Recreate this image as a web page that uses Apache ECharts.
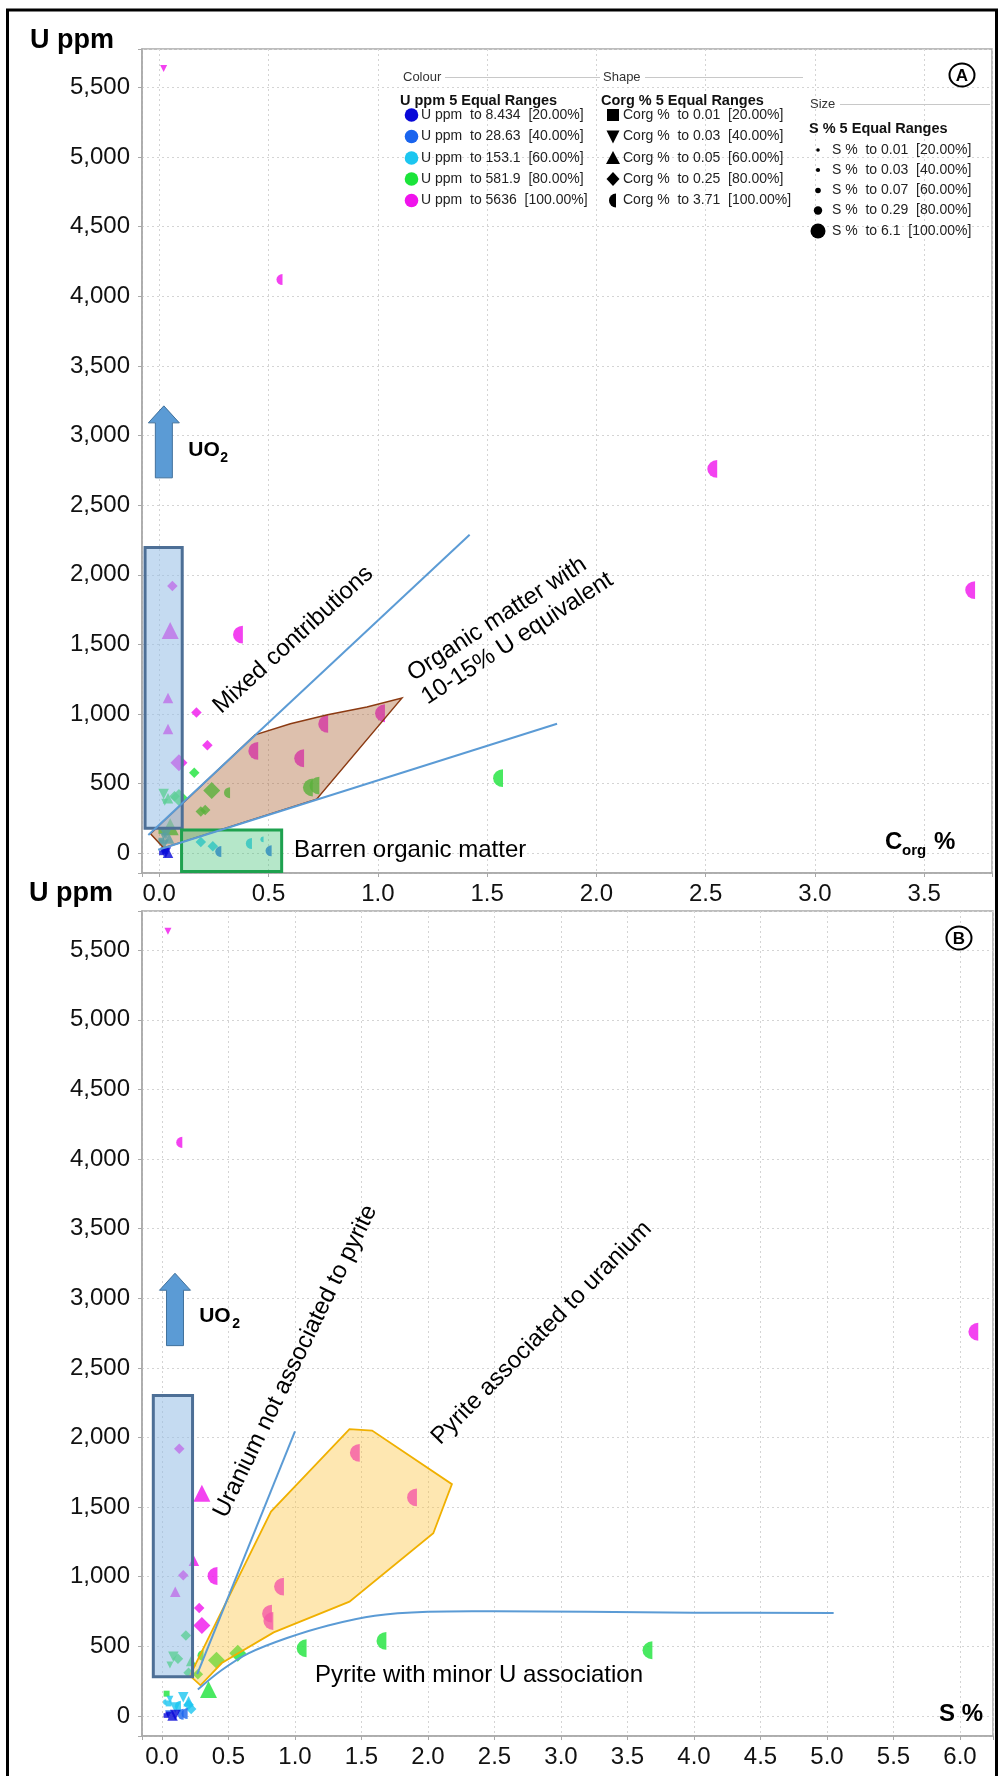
<!DOCTYPE html>
<html><head><meta charset="utf-8"><title>U ppm vs Corg % and S %</title>
<script src="https://cdn.jsdelivr.net/npm/echarts@6.0.0/dist/echarts.min.js"></script>
<style>html,body{margin:0;padding:0;background:#fff;}#chart{width:998px;height:1776px;}</style>
</head><body><div id="chart"></div>
<script>
// ---------- class breaks (legend) ----------
const uBreaks    = [8.434, 28.63, 153.1, 581.9, 5636];
const corgBreaks = [0.01, 0.03, 0.05, 0.25, 3.71];
const sBreaks    = [0.01, 0.03, 0.07, 0.29, 6.1];
const classPct   = ['20.00%', '40.00%', '60.00%', '80.00%', '100.00%'];

// ---------- samples (same samples in both panels) ----------
const uPpm    = [5636, 4120, 2760, 1890, 1920, 1600, 1570, 1115, 1010, 1005, 929, 893, 775, 735, 682, 650,
                 578, 450, 435, 472, 486, 539, 300, 311, 190, 426, 366, 395, 400, 410, 160,
                 80, 50, 70, 100, 120, 90, 135, 60, 105,
                 12, 17, 15,
                 3, 5, 4, 6];
const corgPct = [0.02, 0.55, 2.53, 3.71, 0.06, 0.05, 0.36, 0.04, 0.17, 1.01, 0.75, 0.04, 0.22, 0.43, 0.64, 0.09,
                 0.16, 0.24, 0.31, 0.68, 0.71, 1.55, 0.19, 0.21, 0.05, 0.02, 0.025, 0.04, 0.09, 0.07, 0.01,
                 0.19, 0.245, 0.41, 0.47, 0.02, 0.01, 0.03, 0.02, 0.045,
                 0.27, 0.50, 0.03,
                 0.01, 0.02, 0.04, 0.03];
const sPct    = [0.045, 0.13, 6.1, 1.45, 0.13, 0.30, 1.88, 0.24, 0.16, 0.38, 0.88, 0.10, 0.28, 0.79, 0.80, 0.30,
                 0.18, 0.57, 0.29, 3.65, 1.05, 1.65, 0.27, 0.20, 0.35, 0.086, 0.06, 0.22, 0.41, 0.12, 0.035,
                 0.20, 0.22, 0.12, 0.02, 0.06, 0.05, 0.16, 0.10, 0.20,
                 0.14, 0.17, 0.05,
                 0.03, 0.05, 0.08, 0.10];

// ---------- tick labels ----------
const xTicksA = [0, 0.5, 1, 1.5, 2, 2.5, 3, 3.5];
const xTicksB = [0, 0.5, 1, 1.5, 2, 2.5, 3, 3.5, 4, 4.5, 5, 5.5, 6];
const yTicks  = [0, 500, 1000, 1500, 2000, 2500, 3000, 3500, 4000, 4500, 5000, 5500];

const FONT = '"Liberation Sans", Arial, Helvetica, sans-serif';
const COLORS = ['#0808d8', '#1a64ee', '#1cc6f0', '#1be43a', '#f013ec'];
const SHAPES = ['rect', 'path://M0,0L10,0L5,9Z', 'triangle', 'diamond', 'path://M10,0A10,10,0,0,0,10,20Z'];
const SIZES = [4.5, 5.5, 7, 10.5, 17];

function cls(v, br) { for (let i = 0; i < br.length; i++) { if (v <= br[i] + 1e-9) return i; } return br.length - 1; }
function item(xv, i) {
  const ci = cls(uPpm[i], uBreaks), si = cls(corgPct[i], corgBreaks), zi = cls(sPct[i], sBreaks);
  const s = SIZES[zi];
  let size = s;
  if (si === 4) size = [s * 0.58, s * 1.05];
  else if (si === 0) size = s * 0.85;
  return { value: [xv, uPpm[i]], symbol: SHAPES[si], symbolSize: size, itemStyle: { color: COLORS[ci] } };
}
const dataA = uPpm.map((u, i) => item(corgPct[i], i));
const dataB = uPpm.map((u, i) => item(sPct[i], i));

function near(list, v) { return list.some(t => Math.abs(t - v) < 1e-6); }
function thousands(v) { return String(Math.round(v)).replace(/\B(?=(\d{3})+(?!\d))/g, ','); }

function xAxis(idx, min, max, split, ticks) {
  return {
    type: 'value', gridIndex: idx, min, max, splitNumber: split,
    axisLine: { show: true, onZero: false, lineStyle: { color: '#a8a8a8', width: 1.5 } },
    axisTick: { show: true, length: 4, lineStyle: { color: '#a8a8a8' } },
    splitLine: { show: true, lineStyle: { color: '#d4d4d4', type: [2, 3], width: 1 } },
    axisLabel: { margin: 9, color: '#111', fontFamily: FONT, fontSize: 24,
      formatter: v => near(ticks, v) ? v.toFixed(1) : '' }
  };
}
function yAxis(idx, min, max) {
  return {
    type: 'value', gridIndex: idx, min, max, splitNumber: 12,
    axisLine: { show: true, onZero: false, lineStyle: { color: '#a8a8a8', width: 1.5 } },
    axisTick: { show: true, length: 4, lineStyle: { color: '#a8a8a8' } },
    splitLine: { show: true, lineStyle: { color: '#d4d4d4', type: [2, 3], width: 1 } },
    axisLabel: { margin: 12, color: '#111', fontFamily: FONT, fontSize: 24,
      formatter: v => near(yTicks, v) ? thousands(v) : '' }
  };
}

// ---------- overlay helpers ----------
function overlay(idx, build) {
  return { type: 'custom', coordinateSystem: 'cartesian2d', xAxisIndex: idx, yAxisIndex: idx,
    z: 5, silent: true, clip: false, data: [[0, 0]],
    renderItem: (p, api) => ({ type: 'group', children: build(api) }) };
}
function helpers(api) {
  const c = p => api.coord(p);
  return {
    poly: (pts, style) => ({ type: 'polygon', shape: { points: pts.map(c) }, style }),
    line: (pts, style, smooth) => ({ type: 'polyline', shape: { points: pts.map(c), smooth: smooth || 0 },
      style: Object.assign({ fill: null }, style) }),
    txt: (p, text, rot, font, align, dx, dy) => {
      const q = c(p);
      return { type: 'text', x: q[0] + (dx || 0), y: q[1] + (dy || 0), rotation: (rot || 0) * Math.PI / 180,
        style: { text, font, fill: '#000', align: align || 'center', verticalAlign: 'middle' } };
    },
    arrow: (x, uTip, uBase) => {
      const t = c([x, uTip]), b = c([x, uBase]);
      const X = t[0], hw = 15.5, sw = 8.5, hh = 17;
      return { type: 'polygon', shape: { points: [[X, t[1]], [X + hw, t[1] + hh], [X + sw, t[1] + hh], [X + sw, b[1]],
        [X - sw, b[1]], [X - sw, t[1] + hh], [X - hw, t[1] + hh]] },
        style: { fill: '#5b9bd5', stroke: '#41719c', lineWidth: 1 } };
    }
  };
}
const ANN = '24px ' + FONT;
const BLUE = '#5b9bd5';

const overlayA = overlay(0, api => {
  const h = helpers(api);
  return [
    h.poly([[-0.04, 140], [0.438, 850], [0.6, 930], [0.77, 994], [0.95, 1050], [1.11, 1114], [0.72, 388], [0.02, 38]],
      { fill: 'rgba(175,105,60,0.42)', stroke: '#8b3a12', lineWidth: 1.5 }),
    h.poly([[-0.065, 2195], [0.105, 2195], [0.105, 180], [-0.065, 180]],
      { fill: 'rgba(150,190,230,0.55)', stroke: '#4d6f96', lineWidth: 3 }),
    h.poly([[0.102, 167], [0.56, 167], [0.56, -132], [0.102, -132]],
      { fill: 'rgba(70,195,120,0.40)', stroke: '#1ea14f', lineWidth: 3 }),
    h.line([[-0.05, 131], [1.42, 2287]], { stroke: BLUE, lineWidth: 2 }),
    h.line([[-0.005, 25], [1.82, 930]], { stroke: BLUE, lineWidth: 2 }),
    h.arrow(0.021, 3213, 2696),
    h.txt([0.133, 2897], 'UO', 0, 'bold 21px ' + FONT, 'left'),
    h.txt([0.133, 2897], '2', 0, 'bold 14px ' + FONT, 'left', 32, 8),
    h.txt([0.613, 1533], 'Mixed contributions', 42.3, ANN, 'center'),
    h.txt([1.147, 1274], 'Organic matter with', 33, ANN, 'left'),
    h.txt([1.211, 1106], '10-15% U equivalent', 33, ANN, 'left'),
    h.txt([0.617, 24], 'Barren organic matter', 0, ANN, 'left')
  ];
});

const overlayB = overlay(1, api => {
  const h = helpers(api);
  return [
    h.poly([[0.21, 290], [0.82, 1468], [1.41, 2060], [1.58, 2050], [2.18, 1665], [2.04, 1312], [1.41, 821],
            [0.84, 600], [0.45, 380], [0.29, 220]],
      { fill: 'rgba(253,196,60,0.40)', stroke: '#f0b000', lineWidth: 1.8 }),
    h.poly([[-0.065, 2301], [0.23, 2301], [0.23, 282], [-0.065, 282]],
      { fill: 'rgba(150,190,230,0.55)', stroke: '#4d6f96', lineWidth: 3 }),
    h.line([[0.265, 300], [1.0, 2045]], { stroke: BLUE, lineWidth: 2 }),
    h.line([[0.27, 190], [0.45, 330], [0.65, 450], [0.94, 560], [1.25, 650], [1.6, 720], [2.0, 748], [2.5, 752],
            [3.2, 748], [4.0, 742], [5.05, 740]], { stroke: BLUE, lineWidth: 2 }, 0.35),
    h.arrow(0.098, 3180, 2660),
    h.txt([0.28, 2868], 'UO', 0, 'bold 21px ' + FONT, 'left'),
    h.txt([0.28, 2868], '2', 0, 'bold 14px ' + FONT, 'left', 33, 7),
    h.txt([1.004, 2547], 'Uranium not associated to pyrite', 64, ANN, 'center'),
    h.txt([2.855, 2751], 'Pyrite associated to uranium', 45.5, ANN, 'center'),
    h.txt([1.15, 295], 'Pyrite with minor U association', 0, ANN, 'left')
  ];
});

// ---------- legend & decorations (graphic) ----------
const G = [];
function gtext(x, y, text, font, align, fill) {
  G.push({ type: 'text', x, y, silent: true, z: 100,
    style: { text, font, fill: fill || '#111', align: align || 'left', verticalAlign: 'middle' } });
}
function gline(x1, y1, x2, y2, color, w) {
  G.push({ type: 'line', silent: true, z: 100, shape: { x1, y1, x2, y2 }, style: { stroke: color, lineWidth: w || 1 } });
}
G.push({ type: 'rect', silent: true, z: 200, shape: { x: 7.5, y: 10, width: 989, height: 1790 },
  style: { fill: null, stroke: '#000', lineWidth: 3 } });
gtext(30, 41, 'U ppm', 'bold 27px ' + FONT, 'left', '#000');
gtext(29, 894, 'U ppm', 'bold 27px ' + FONT, 'left', '#000');
function circled(cx, cy, letter) {
  G.push({ type: 'ellipse', silent: true, z: 100, shape: { cx, cy, rx: 12.5, ry: 11.5 },
    style: { fill: '#fff', stroke: '#000', lineWidth: 2 } });
  gtext(cx, cy + 1, letter, 'bold 17px ' + FONT, 'center', '#000');
}
circled(962, 75, 'A');
circled(959, 938, 'B');
gtext(885, 842, 'C', 'bold 24px ' + FONT, 'left', '#000');
gtext(902, 851, 'org', 'bold 15px ' + FONT, 'left', '#000');
gtext(934, 842, '%', 'bold 24px ' + FONT, 'left', '#000');
gtext(983, 1714, 'S %', 'bold 24px ' + FONT, 'right', '#000');

const LF = '14px ' + FONT, LB = 'bold 14.5px ' + FONT, LS = '13px ' + FONT;
gtext(403, 77, 'Colour', LS, 'left', '#333');
gline(445, 77.5, 600, 77.5, '#c8c8c8', 1);
gtext(603, 77, 'Shape', LS, 'left', '#333');
gline(645, 77.5, 803, 77.5, '#c8c8c8', 1);
gtext(810, 104.5, 'Size', LS, 'left', '#333');
gline(840, 104.5, 990, 104.5, '#c8c8c8', 1);
gtext(400, 101, 'U ppm 5 Equal Ranges', LB, 'left', '#111');
gtext(601, 101, 'Corg % 5 Equal Ranges', LB, 'left', '#111');
gtext(809, 128.5, 'S % 5 Equal Ranges', LB, 'left', '#111');
const rowsC = [115, 136.5, 158, 179, 200.5];
const rowsS = [150, 170, 190.5, 210.5, 231];
const dotR = [1.8, 2.1, 2.8, 4.2, 7.5];
for (let i = 0; i < 5; i++) {
  const y = rowsC[i];
  G.push({ type: 'circle', silent: true, z: 100, shape: { cx: 411.5, cy: y, r: 6.8 }, style: { fill: COLORS[i] } });
  gtext(421, y, 'U ppm  to ' + uBreaks[i] + '  [' + classPct[i] + ']', LF, 'left', '#222');
  const sx = 613;
  let shp;
  if (i === 0) shp = { type: 'rect', shape: { x: sx - 6, y: y - 6, width: 12, height: 12 } };
  else if (i === 1) shp = { type: 'polygon', shape: { points: [[sx - 6.5, y - 6], [sx + 6.5, y - 6], [sx, y + 7]] } };
  else if (i === 2) shp = { type: 'polygon', shape: { points: [[sx, y - 7], [sx + 7, y + 6], [sx - 7, y + 6]] } };
  else if (i === 3) shp = { type: 'polygon', shape: { points: [[sx, y - 7], [sx + 6.5, y], [sx, y + 7], [sx - 6.5, y]] } };
  else shp = { type: 'sector', shape: { cx: sx + 3, cy: y, r0: 0, r: 7, startAngle: Math.PI / 2, endAngle: Math.PI * 1.5 } };
  shp.silent = true; shp.z = 100; shp.style = { fill: '#000' };
  G.push(shp);
  gtext(623, y, 'Corg %  to ' + corgBreaks[i] + '  [' + classPct[i] + ']', LF, 'left', '#222');
  G.push({ type: 'circle', silent: true, z: 100, shape: { cx: 818, cy: rowsS[i], r: dotR[i] }, style: { fill: '#000' } });
  gtext(832, rowsS[i], 'S %  to ' + sBreaks[i] + '  [' + classPct[i] + ']', LF, 'left', '#222');
}

const option = {
  animation: false,
  backgroundColor: '#fff',
  textStyle: { fontFamily: FONT },
  grid: [
    { left: 142, right: 6, top: 49, height: 824, show: true, borderColor: '#a8a8a8', borderWidth: 1.5, containLabel: false },
    { left: 142, right: 5, top: 911, height: 825, show: true, borderColor: '#a8a8a8', borderWidth: 1.5, containLabel: false }
  ],
  xAxis: [xAxis(0, -0.079, 3.81, 8, xTicksA), xAxis(1, -0.15, 6.248, 12, xTicksB)],
  yAxis: [yAxis(0, -142, 5776), yAxis(1, -144, 5782)],
  series: [
    { type: 'scatter', xAxisIndex: 0, yAxisIndex: 0, data: dataA, z: 2, silent: true },
    { type: 'scatter', xAxisIndex: 1, yAxisIndex: 1, data: dataB, z: 2, silent: true },
    overlayA, overlayB
  ],
  graphic: { elements: G }
};
const chart = echarts.init(document.getElementById('chart'), null, { renderer: 'canvas', width: 998, height: 1776 });
chart.setOption(option);
</script></body></html>
